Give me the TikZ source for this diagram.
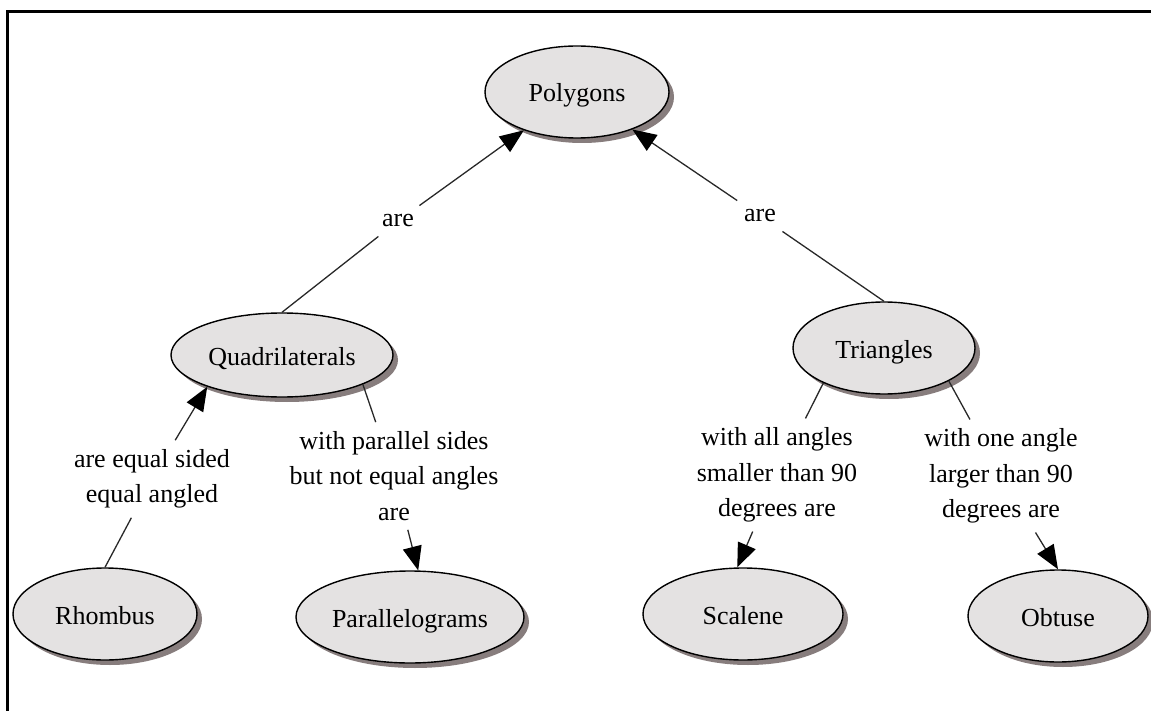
\documentclass[tikz,border=0pt]{standalone}
\usepackage{fontspec}
\setmainfont{Liberation Serif}
\usetikzlibrary{shapes.geometric,arrows.meta,shadows}
\definecolor{nodefill}{RGB}{228,226,226}
\definecolor{shadowcol}{RGB}{135,125,125}
\definecolor{linecol}{RGB}{40,40,40}
\begin{document}
\begin{tikzpicture}[x=1pt,y=-1pt,
  concept/.style={ellipse, draw=black, line width=1.4pt, fill=nodefill,
    inner sep=0pt, minimum height=92pt, font=\fontsize{26}{30}\selectfont,
    text height=20pt, text depth=0pt,
    drop shadow={shadow xshift=5pt, shadow yshift=-5pt, fill=shadowcol, opacity=1}},
  linklabel/.style={align=center, inner sep=9pt, font=\fontsize{26}{35.5}\selectfont},
  link/.style={draw=linecol, line width=1.3pt},
  arrowlink/.style={link, -{Triangle[length=24pt,width=19pt,color=black]}}]
\useasboundingbox (0,0) rectangle (1151,711);
% frame
\draw[line width=2.5pt] (7.5,711) -- (7.5,11.5) -- (1151,11.5);

% concepts
\node[concept, minimum width=184pt] (poly) at (577,92) {Polygons};
\node[concept, minimum width=222pt, minimum height=84pt] (quad) at (282,355) {Quadrilaterals};
\node[concept, minimum width=182pt] (tri) at (884,348) {Triangles};
\node[concept, minimum width=184pt] (rhom) at (105,614) {Rhombus};
\node[concept, minimum width=228pt] (para) at (410,617) {Parallelograms};
\node[concept, minimum width=200pt] (scal) at (743,614) {Scalene};
\node[concept, minimum width=180pt] (obt) at (1058,616) {Obtuse};

% linking phrases
\node[linklabel] (l1) at (398,221) {are};
\node[linklabel] (l2) at (760,216) {are};
\node[linklabel] (l3) at (152,479) {are equal sided\\equal angled};
\node[linklabel] (l4) at (394,476) {with parallel sides\\but not equal angles\\are};
\node[linklabel] (l5) at (777,475) {with all angles\\smaller than 90\\degrees are};
\node[linklabel] (l6) at (1001,476) {with one angle\\larger than 90\\degrees are};

% connections
\draw[link] (quad.north) -- (l1);
\draw[arrowlink] (l1) -- (poly);
\draw[link] (tri.north) -- (l2);
\draw[arrowlink] (l2) -- (poly);
\draw[link] (rhom.north) -- (l3);
\draw[arrowlink] (l3) -- (quad.203);
\draw[link] (quad.340) -- (l4);
\draw[arrowlink] (l4) -- (para.80);
\draw[link] (tri.210) -- (l5);
\draw[arrowlink] (l5) -- (scal.97);
\draw[link] (tri.333) -- (l6);
\draw[arrowlink] (l6) -- (obt.north);
\end{tikzpicture}
\end{document}
